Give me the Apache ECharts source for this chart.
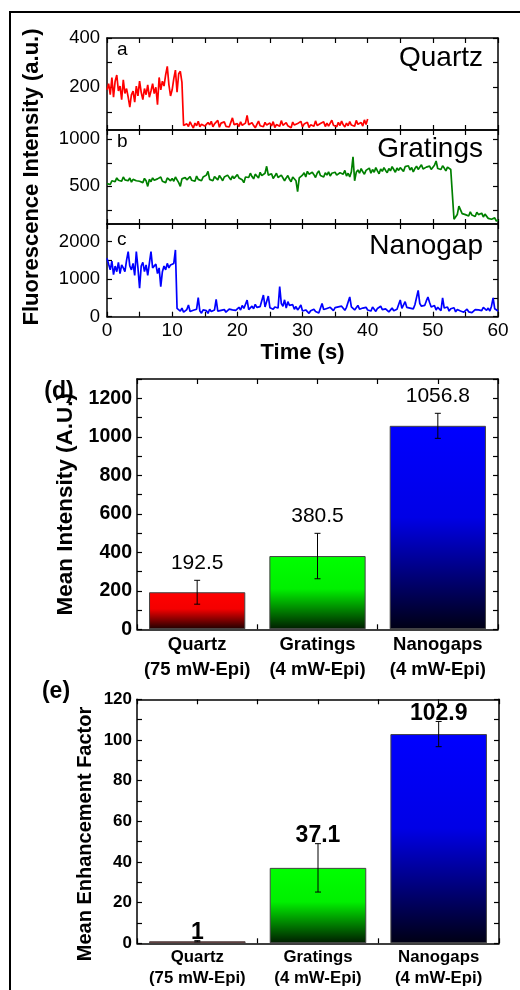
<!DOCTYPE html>
<html>
<head>
<meta charset="utf-8">
<script src="https://cdn.jsdelivr.net/npm/echarts@6/dist/echarts.min.js"></script>
<style>
    html, body { margin: 0; padding: 0; background: #fff; }
    #chart { width: 520px; height: 990px; }
</style>
</head>
<body>
<div id="chart"></div>
<script>
    // time step of the traces (s)
    const dt = 0.25

    // panel a, quartz trace, 0..40 s
    const quartzTrace = [
        190, 215, 170, 240, 160, 225, 250, 185, 205, 150, 230, 175, 195, 160, 120, 170, 185, 140, 205, 165,
        225, 180, 150, 195, 170, 210, 160, 185, 215, 175, 200, 130, 240, 190, 225, 205, 250, 285, 210, 165,
        190, 235, 270, 180, 255, 265, 220, 45, 38, 52, 41, 60, 47, 35, 55, 44, 62, 40, 50, 58,
        43, 36, 57, 48, 62, 40, 52, 45, 66, 38, 55, 47, 60, 42, 50, 39, 58, 76, 49, 44,
        53, 41, 60, 46, 38, 55, 86, 48, 42, 57, 45, 36, 50, 63, 44, 52, 40, 58, 47, 39,
        55, 43, 61, 37, 49, 54, 42, 65, 46, 38, 57, 44, 50, 36, 59, 47, 41, 53, 45, 62,
        40, 51, 44, 58, 37, 48, 56, 42, 64, 45, 39, 53, 47, 60, 41, 55, 43, 50, 67, 46,
        52, 40, 58, 45, 63, 48, 39, 55, 44, 61, 47, 53, 42, 66, 50, 45, 57, 43, 68, 49,
        72
    ]

    // panel b, gratings trace, 0..60 s
    const gratingsTrace = [
        530, 545, 520, 560, 575, 550, 590, 565, 580, 555, 600, 570, 585, 560, 590, 545, 575, 595, 560, 580,
        555, 570, 540, 585, 560, 500, 575, 550, 590, 565, 545, 580, 560, 600, 555, 575, 540, 590, 570, 560,
        585, 555, 600, 570, 540, 500, 580, 560, 595, 570, 550, 605, 565, 585, 555, 610, 575, 590, 560, 600,
        580, 620, 660, 575, 595, 560, 605, 585, 570, 615, 590, 560, 600, 580, 620, 595, 570, 610, 585, 600,
        625, 590, 610, 570, 540, 600, 620, 595, 640, 605, 580, 630, 610, 590, 650, 615, 600, 640, 714, 620,
        600, 635, 585, 610, 640, 595, 575, 620, 600, 560, 590, 615, 575, 550, 600, 580, 560, 445, 590, 610,
        620, 645, 600, 660, 630, 610, 650, 625, 595, 640, 665, 615, 630, 600, 645, 620, 655, 610, 640, 625,
        650, 620, 600, 645, 660, 630, 670, 610, 640, 600, 655, 815, 560, 650, 675, 640, 690, 655, 630, 670,
        660, 695, 640, 680, 650, 700, 665, 635, 685, 660, 700, 670, 645, 690, 665, 710, 680, 650, 695, 670,
        700, 680, 660, 710, 690, 720, 675, 700, 655, 690, 715, 680, 700, 730, 685, 670, 705, 690, 715, 680,
        700, 725, 770, 690, 710, 680, 720, 695, 665, 705, 690, 680, 700, 150, 140, 200, 290, 250, 210, 230,
        200, 215, 185, 230, 195, 210, 180, 225, 200, 190, 215, 175, 205, 185, 160, 175, 150, 140, 165, 130,
        145
    ]

    // panel c, nanogap trace, 0..60 s
    const nanogapTrace = [
        1560, 1400, 1250, 1480, 1120, 1350, 1200, 1450, 1150, 1380, 1300, 1200, 1500, 1733, 1350, 1250, 1420, 1100, 1733, 1300,
        760, 1350, 1450, 1200, 1380, 1100, 1420, 1733, 1300, 1250, 1400, 1150, 1300, 800, 1200, 1350, 1250, 1420, 1300, 1380,
        1350, 1420, 1778, 220, 180, 150, 230, 120, 160, 190, 311, 140, 110, 170, 130, 200, 507, 150, 95, 180,
        130, 160, 90, 200, 140, 120, 180, 463, 150, 110, 170, 140, 190, 120, 160, 200, 150, 180, 230, 170,
        200, 250, 180, 300, 220, 260, 443, 190, 240, 280, 210, 330, 250, 200, 270, 230, 578, 260, 310, 550,
        240, 290, 200, 260, 310, 230, 800, 350, 280, 450, 230, 400, 300, 250, 320, 200, 270, 180, 240, 311,
        150, 110, 180, 130, 90, 160, 120, 200, 140, 180, 100, 150, 353, 190, 140, 220, 170, 250, 200, 160,
        240, 190, 260, 210, 280, 230, 170, 250, 200, 525, 260, 220, 180, 240, 300, 200, 170, 230, 190, 250,
        180, 230, 150, 260, 200, 140, 220, 170, 280, 190, 150, 210, 250, 130, 180, 230, 160, 120, 200, 170,
        445, 220, 180, 400, 250, 300, 230, 270, 210, 320, 290, 703, 350, 280, 240, 300, 420, 525, 380, 260,
        220, 300, 180, 250, 200, 160, 500, 230, 190, 260, 150, 210, 170, 240, 130, 190, 220, 150, 180, 120,
        160, 200, 130, 170, 110, 150, 190, 140, 180, 220, 160, 250, 200, 170, 230, 150, 280, 500, 210, 260,
        150
    ]

    // tick positions and labels of the trace panels
    const timeTicks = [0, 5, 10, 15, 20, 25, 30, 35, 40, 45, 50, 55, 60]
    const timeLabels = [0, 10, 20, 30, 40, 50, 60]
    const quartzTicks = [100, 200, 300, 400]
    const quartzLabels = [200, 400]
    const gratingsTicks = [250, 500, 750, 1000]
    const gratingsLabels = [500, 1000]
    const nanogapTicks = [0, 500, 1000, 1500, 2000]
    const nanogapLabels = [0, 1000, 2000]

    // bar panels
    const categories = ['Quartz\n(75 mW-Epi)', 'Gratings\n(4 mW-Epi)', 'Nanogaps\n(4 mW-Epi)']
    const meanIntensity = [192.5, 380.5, 1056.8]
    const intensityErr = [62, 118, 65]
    const intensityText = ['192.5', '380.5', '1056.8']
    const enhancement = [1, 37.1, 102.9]
    const enhancementErr = [0.3, 11.9, 6.2]
    const enhancementText = ['1', '37.1', '102.9']

    const FONT = 'Liberation Sans, Arial, sans-serif'
    const barColors = [
        ['#ff0000', '#f40000', '#1c0000'],
        ['#00ff00', '#00f000', '#001c00'],
        ['#0000ff', '#0000e6', '#000014']
    ]

    const toSeries = trace => trace.map((v, i) => [i * dt, v])

    const axisLine = { show: true, onZero: false, lineStyle: { color: '#000', width: 1.5 } }
    const tick = (values) => ({ show: true, inside: true, length: 5, customValues: values, lineStyle: { color: '#000', width: 1.2 } })

    function timeAxis(grid, pos, labels) {
        return {
            type: 'value', gridIndex: grid, position: pos, min: 0, max: 60,
            axisLine: axisLine, axisTick: tick(timeTicks), splitLine: { show: false },
            axisLabel: labels
                ? { show: true, customValues: labels, color: '#000', fontSize: 19, fontFamily: FONT, margin: 5, formatter: v => String(v) }
                : { show: false }
        }
    }

    function traceY(grid, pos, min, max, ticks, labels) {
        return {
            type: 'value', gridIndex: grid, position: pos, min: min, max: max,
            axisLine: axisLine, axisTick: tick(ticks), splitLine: { show: false },
            axisLabel: labels
                ? { show: true, customValues: labels, color: '#000', fontSize: 18.5, fontFamily: FONT, margin: 7, formatter: v => String(v) }
                : { show: false }
        }
    }

    function barY(grid, pos, max, step, labelStep, fontSize) {
        return {
            type: 'value', gridIndex: grid, position: pos, min: 0, max: max, interval: step,
            axisLine: axisLine, splitLine: { show: false },
            axisTick: { show: true, inside: true, length: 5, lineStyle: { color: '#000', width: 1.2 } },
            axisLabel: pos === 'left'
                ? { show: true, color: '#000', fontSize: fontSize, fontWeight: 'bold', fontFamily: FONT, margin: 5,
                    formatter: v => (v % labelStep === 0 ? String(v) : '') }
                : { show: false }
        }
    }

    function catAxis(grid, fontSize, lineHeight) {
        return {
            type: 'category', gridIndex: grid, position: 'bottom', data: categories,
            axisLine: axisLine,
            axisTick: { show: true, inside: true, length: 5, lineStyle: { color: '#000', width: 1.2 } },
            axisLabel: { interval: 0, color: '#000', fontSize: fontSize, fontWeight: 'bold', fontFamily: FONT, lineHeight: lineHeight, margin: 3 }
        }
    }

    function halfTicks(grid) {
        return {
            type: 'value', gridIndex: grid, position: 'top', min: 0, max: 6, interval: 1,
            axisLine: axisLine, splitLine: { show: false }, axisLabel: { show: false },
            axisTick: { show: true, inside: true, length: 5, lineStyle: { color: '#000', width: 1.2 } }
        }
    }

    function barData(values) {
        return values.map((v, i) => ({
            value: v,
            itemStyle: {
                color: new echarts.graphic.LinearGradient(0, 0, 0, 1, [
                    { offset: 0, color: barColors[i][0] },
                    { offset: 0.45, color: barColors[i][1] },
                    { offset: 1, color: barColors[i][2] }
                ])
            }
        }))
    }

    function errorSeries(xi, yi, values, errs, texts, font, weight, gap, align) {
        return {
            type: 'custom', xAxisIndex: xi, yAxisIndex: yi, z: 5,
            data: values.map((v, i) => [i, v - errs[i], v + errs[i]]),
            renderItem: (params, api) => {
                const i = api.value(0)
                const top = api.coord([i, api.value(2)])
                const bottom = api.coord([i, api.value(1)])
                const st = { stroke: '#000', lineWidth: 1 }
                return {
                    type: 'group',
                    children: [
                        { type: 'line', shape: { x1: top[0], y1: top[1], x2: bottom[0], y2: bottom[1] }, style: st },
                        { type: 'line', shape: { x1: top[0] - 3, y1: top[1], x2: top[0] + 3, y2: top[1] }, style: st },
                        { type: 'line', shape: { x1: bottom[0] - 3, y1: bottom[1], x2: bottom[0] + 3, y2: bottom[1] }, style: st },
                        {
                            type: 'text', x: top[0], y: top[1] - gap,
                            style: { text: texts[i], fill: '#000', fontSize: font, fontWeight: weight, fontFamily: FONT, align: 'center', verticalAlign: align }
                        }
                    ]
                }
            }
        }
    }

    function label(text, x, y, size, opts) {
        return Object.assign({
            type: 'text', x: x, y: y,
            style: { text: text, fill: '#000', fontSize: size, fontFamily: FONT, align: 'left', verticalAlign: 'middle' }
        }, opts || {})
    }

    const chart = echarts.init(document.getElementById('chart'))
    const option = {
        animation: false,
        backgroundColor: '#fff',
        grid: [
            { left: 107, top: 38, width: 391, height: 92 },
            { left: 107, top: 130, width: 391, height: 94 },
            { left: 107, top: 224, width: 391, height: 92.7 },
            { left: 137, top: 379, width: 361, height: 250.3 },
            { left: 137, top: 699.3, width: 362, height: 244 }
        ],
        xAxis: [
            timeAxis(0, 'bottom'), timeAxis(0, 'top'),
            timeAxis(1, 'bottom'), timeAxis(1, 'top'),
            Object.assign(timeAxis(2, 'bottom', timeLabels), {
                name: 'Time (s)', nameLocation: 'middle', nameGap: 24,
                nameTextStyle: { color: '#000', fontSize: 22, fontWeight: 'bold', fontFamily: FONT }
            }),
            timeAxis(2, 'top'),
            catAxis(3, 18.5, 25), halfTicks(3),
            catAxis(4, 16.8, 21.5), halfTicks(4)
        ],
        yAxis: [
            traceY(0, 'left', 27, 400, quartzTicks, quartzLabels), traceY(0, 'right', 27, 400, quartzTicks),
            Object.assign(traceY(1, 'left', 100, 1100, gratingsTicks, gratingsLabels), {
                name: 'Fluorescence Intensity (a.u.)', nameLocation: 'middle', nameGap: 64,
                nameTextStyle: { color: '#000', fontSize: 22, fontWeight: 'bold', fontFamily: FONT }
            }),
            traceY(1, 'right', 100, 1100, gratingsTicks),
            traceY(2, 'left', 0, 2470, nanogapTicks, nanogapLabels), traceY(2, 'right', 0, 2470, nanogapTicks),
            Object.assign(barY(3, 'left', 1300, 100, 200, 19.5), {
                name: 'Mean Intensity (A.U.)', nameLocation: 'middle', nameGap: 42,
                nameTextStyle: { color: '#000', fontSize: 22.5, fontWeight: 'bold', fontFamily: FONT }
            }),
            barY(3, 'right', 1300, 100, 200),
            barY(4, 'left', 120, 10, 20, 17),
            barY(4, 'right', 120, 10, 20)
        ],
        series: [
            { type: 'line', xAxisIndex: 0, yAxisIndex: 0, data: toSeries(quartzTrace), showSymbol: false, lineStyle: { color: '#ff0000', width: 1.7 }, z: 3 },
            { type: 'line', xAxisIndex: 2, yAxisIndex: 2, data: toSeries(gratingsTrace), showSymbol: false, lineStyle: { color: '#008000', width: 1.7 }, z: 3 },
            { type: 'line', xAxisIndex: 4, yAxisIndex: 4, data: toSeries(nanogapTrace), showSymbol: false, lineStyle: { color: '#0000ff', width: 1.7 }, z: 3 },
            { type: 'bar', xAxisIndex: 6, yAxisIndex: 6, barWidth: '80%', data: barData(meanIntensity), itemStyle: { borderColor: '#444', borderWidth: 1 } },
            errorSeries(6, 6, meanIntensity, intensityErr, intensityText, 21, 'normal', 17, 'middle'),
            { type: 'bar', xAxisIndex: 8, yAxisIndex: 8, barWidth: '80%', data: barData(enhancement), itemStyle: { borderColor: '#444', borderWidth: 1 } },
            errorSeries(8, 8, enhancement, enhancementErr, enhancementText, 23, 'bold', 8, 'middle')
        ],
        graphic: [
            { type: 'polyline', shape: { points: [[10, 990], [10, 12], [520, 12]] }, style: { stroke: '#000', lineWidth: 2, fill: null } },
            label('a', 117, 50, 19),
            label('b', 117, 142, 19),
            label('c', 117, 240, 19),
            label('Quartz', 483, 58, 28, {}),
            label('Gratings', 483, 149, 28),
            label('Nanogap', 483, 246, 28),
            label('(d)', 59, 392, 23),
            label('(e)', 56, 692, 23),
            {
                type: 'text', x: 85.3, y: 834, rotation: Math.PI / 2,
                style: { text: 'Mean Enhancement Factor', fill: '#000', fontSize: 20, fontWeight: 'bold', fontFamily: FONT, align: 'center', verticalAlign: 'middle' }
            }
        ]
    }
    // right-aligned panel names, centred bold panel tags
    option.graphic.slice(4, 7).forEach(g => { g.style.align = 'right' })
    option.graphic.slice(7, 9).forEach(g => { g.style.align = 'center'; g.style.fontWeight = 'bold' })

    chart.setOption(option)
    window.addEventListener('resize', () => {
        chart.resize()
    })
</script>
</body>
</html>
